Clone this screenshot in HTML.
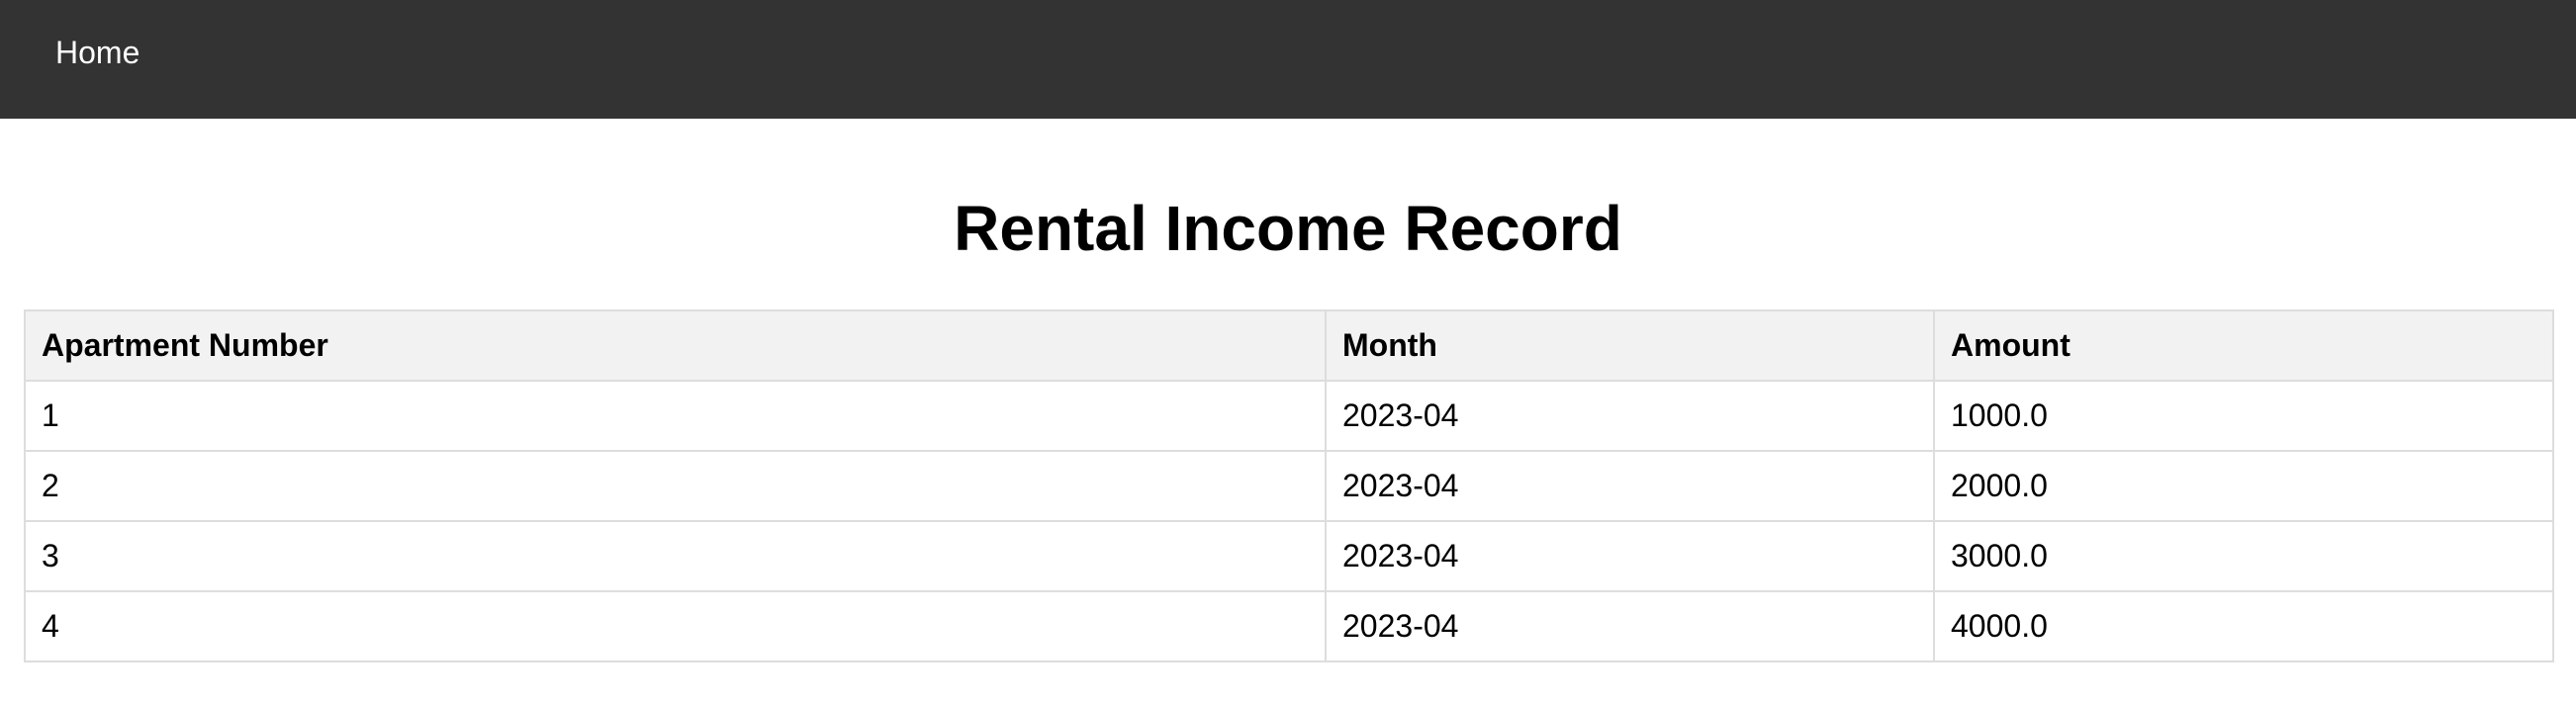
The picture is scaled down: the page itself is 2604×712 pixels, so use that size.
<!DOCTYPE html>
<html>
<head>
<meta charset="utf-8">
<style>
  html, body { margin: 0; padding: 0; width: 2604px; height: 712px; background: #fff; overflow: hidden; font-family: "Liberation Sans", Arial, sans-serif; color: #000; }
  .nav { position: absolute; left: 0; top: 0; width: 2604px; height: 120px; background: #333; }
  .nav a { position: absolute; left: 56px; top: 35px; font-size: 32px; line-height: 36px; color: #fff; text-decoration: none; }
  h1 { position: absolute; left: 0; top: 194px; width: 2604px; margin: 0; text-align: center; font-size: 64px; line-height: 74px; font-weight: bold; }
  .table { position: absolute; left: 24px; top: 313px; width: 2558px; border-top: 2px solid #ddd; border-left: 2px solid #ddd; box-sizing: border-box; }
  .row { display: flex; height: 71px; }
  .cell { box-sizing: border-box; height: 71px; border-right: 2px solid #ddd; border-bottom: 2px solid #ddd; padding: 0 16px; display: flex; align-items: center; font-size: 32px; white-space: nowrap; }
  .head .cell { background: #f2f2f2; font-weight: bold; font-size: 32px; }
  .c1 { width: 1315px; }
  .c2 { width: 615px; }
  .c3 { width: 626px; }
</style>
</head>
<body>
<div class="nav">
  <a href="#">Home</a>
</div>
<h1>Rental Income Record</h1>
<div class="table">
  <div class="row head">
    <div class="cell c1">Apartment Number</div>
    <div class="cell c2">Month</div>
    <div class="cell c3">Amount</div>
  </div>
  <div class="row">
    <div class="cell c1">1</div>
    <div class="cell c2">2023-04</div>
    <div class="cell c3">1000.0</div>
  </div>
  <div class="row">
    <div class="cell c1">2</div>
    <div class="cell c2">2023-04</div>
    <div class="cell c3">2000.0</div>
  </div>
  <div class="row">
    <div class="cell c1">3</div>
    <div class="cell c2">2023-04</div>
    <div class="cell c3">3000.0</div>
  </div>
  <div class="row">
    <div class="cell c1">4</div>
    <div class="cell c2">2023-04</div>
    <div class="cell c3">4000.0</div>
  </div>
</div>
</body>
</html>
